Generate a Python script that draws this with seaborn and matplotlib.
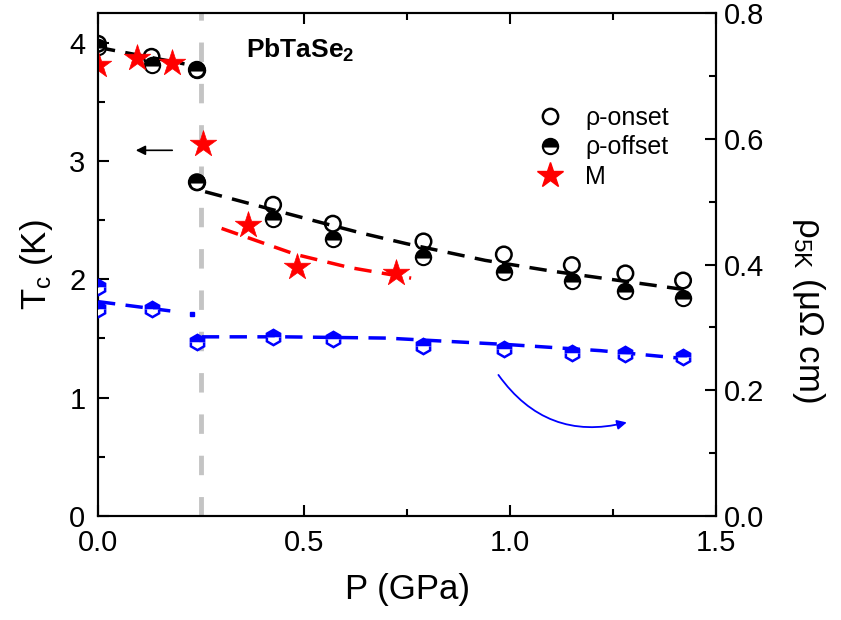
import numpy as np
import pandas as pd
import matplotlib
matplotlib.use("Agg")
import matplotlib.pyplot as plt
import seaborn as sns
from matplotlib.lines import Line2D

# -----------------------------
# Data
# -----------------------------
# Tc from resistivity (onset / offset), left axis
P_res = [0.0, 0.13, 0.24, 0.24, 0.425, 0.57, 0.79, 0.985, 1.15, 1.28, 1.42]
Tc_onset = [3.99, 3.88, 3.77, 2.82, 2.63, 2.47, 2.32, 2.21, 2.12, 2.05, 1.99]
Tc_offset = [3.96, 3.81, 3.77, 2.82, 2.51, 2.34, 2.19, 2.06, 1.99, 1.90, 1.84]

# Tc from magnetization
P_M = [0.0, 0.095, 0.18, 0.256, 0.365, 0.483, 0.723]
Tc_M = [3.81, 3.87, 3.83, 3.14, 2.46, 2.10, 2.05]

# rho at 5 K, right axis
P_rho = [0.0, 0.0, 0.13, 0.24, 0.425, 0.57, 0.79, 0.985, 1.15, 1.28, 1.42]
rho_5K = [0.365, 0.33, 0.330, 0.276, 0.285, 0.281, 0.270, 0.266, 0.260, 0.258, 0.253]

# guide-to-the-eye dashed lines (vertices)
guide_black_lo_P = [0.0, 0.21]
guide_black_lo_T = [3.96, 3.82]
guide_black_hi_P = [0.26, 0.53, 0.64, 0.75, 0.94, 1.10, 1.43]
guide_black_hi_T = [2.74, 2.49, 2.39, 2.30, 2.16, 2.07, 1.91]
guide_red_P = [0.30, 0.48, 0.61, 0.76]
guide_red_T = [2.43, 2.21, 2.10, 2.01]
guide_blue_lo_P = [0.0, 0.19]
guide_blue_lo_rho = [0.341, 0.325]
guide_blue_hi_P = [0.252, 0.45, 0.70, 1.0, 1.22, 1.43]
guide_blue_hi_rho = [0.285, 0.285, 0.283, 0.2725, 0.263, 0.250]

P_transition = 0.25

# -----------------------------
# Style
# -----------------------------
sns.set_style("ticks")
plt.rcParams['font.family'] = ['Liberation Sans', 'DejaVu Sans']
plt.rcParams['mathtext.fontset'] = 'custom'
plt.rcParams['mathtext.rm'] = 'Liberation Sans'
plt.rcParams['mathtext.it'] = 'Liberation Sans'
plt.rcParams['mathtext.bf'] = 'Liberation Sans:bold'
plt.rcParams['axes.linewidth'] = 1.5
plt.rcParams['xtick.direction'] = 'in'
plt.rcParams['ytick.direction'] = 'in'
for key in ['text.color', 'axes.labelcolor', 'axes.edgecolor',
            'xtick.color', 'ytick.color']:
    plt.rcParams[key] = 'black'

fig = plt.figure(figsize=(8.41, 6.2), dpi=100)
ax = fig.add_axes([0.1165, 0.1677, 0.7349, 0.8113])
ax2 = ax.twinx()

dash_kw = dict(linewidth=2.5, dashes=(5, 3))

# guide lines
sns.lineplot(x=guide_black_lo_P, y=guide_black_lo_T, ax=ax, color='black', **dash_kw)
sns.lineplot(x=guide_black_hi_P, y=guide_black_hi_T, ax=ax, color='black', **dash_kw)
sns.lineplot(x=guide_red_P, y=guide_red_T, ax=ax, color='red', **dash_kw)
sns.lineplot(x=guide_blue_lo_P, y=guide_blue_lo_rho, ax=ax2, color='blue', **dash_kw)
sns.lineplot(x=guide_blue_hi_P, y=guide_blue_hi_rho, ax=ax2, color='blue', **dash_kw)
# small dot at the end of the low-pressure blue line
ax2.plot([0.228], [0.322], 's', color='blue', markersize=3)

# vertical transition line
ax.axvline(P_transition, color='#c4c4c4', linewidth=3.5, dashes=(4, 4.5), zorder=1)

# markers
ax.plot(P_res, Tc_offset, linestyle='none', marker='o', markersize=11,
        markerfacecolor='black', markerfacecoloralt='white', fillstyle='top',
        markeredgecolor='black', markeredgewidth=1.5, zorder=4)
sns.scatterplot(x=P_res, y=Tc_onset, ax=ax, marker='o', s=125,
                facecolor='none', edgecolor='black', linewidth=1.8, zorder=5)
sns.scatterplot(x=P_M, y=Tc_M, ax=ax, marker='*', s=400,
                color='red', edgecolor='red', linewidth=0.5, zorder=6)
ax2.plot(P_rho, rho_5K, linestyle='none', marker='h', markersize=11,
         markerfacecolor='blue', markerfacecoloralt='white', fillstyle='top',
         markeredgecolor='blue', markeredgewidth=1.8, zorder=4)

# arrows
ax.annotate('', xy=(0.085, 3.09), xytext=(0.187, 3.09),
            arrowprops=dict(arrowstyle='-|>', color='black', lw=1.2,
                            mutation_scale=14))
ax2.annotate('', xy=(1.29, 0.150), xytext=(0.968, 0.228),
             arrowprops=dict(arrowstyle='-|>', color='blue', lw=1.3,
                             mutation_scale=14,
                             connectionstyle='arc3,rad=0.35'))

ax.text(0.36, 3.93, 'PbTaSe$_\\mathbf{2}$', fontsize=19, fontweight='bold',
        va='center')

# legend
handles = [
    Line2D([], [], linestyle='none', marker='o', markersize=11,
           markerfacecolor='white', markeredgecolor='black', markeredgewidth=1.8),
    Line2D([], [], linestyle='none', marker='o', markersize=11,
           markerfacecolor='black', markerfacecoloralt='white', fillstyle='top',
           markeredgecolor='black', markeredgewidth=1.5),
    Line2D([], [], linestyle='none', marker='*', markersize=19,
           color='red'),
]
ax.legend(handles, ['ρ-onset', 'ρ-offset', 'M'], loc='upper left',
          bbox_to_anchor=(0.655, 0.86), frameon=False, fontsize=18,
          handletextpad=0.4, labelspacing=0.22)

# axes
ax.set_xlim(0, 1.5)
ax.set_ylim(0, 4.25)
ax2.set_ylim(0, 0.8)
ax.set_xticks([0.0, 0.5, 1.0, 1.5])
ax.set_xticks([0.25, 0.75, 1.25], minor=True)
ax.set_yticks([0, 1, 2, 3, 4])
ax.set_yticks([0.5, 1.5, 2.5, 3.5], minor=True)
ax2.set_yticks([0.0, 0.2, 0.4, 0.6, 0.8])
ax2.set_yticks([0.1, 0.3, 0.5, 0.7], minor=True)
ax.xaxis.set_major_formatter(plt.FormatStrFormatter('%.1f'))
ax2.yaxis.set_major_formatter(plt.FormatStrFormatter('%.1f'))

ax.tick_params(which='both', top=True, right=False, width=1.5, labelsize=21)
ax.tick_params(which='major', length=8)
ax.tick_params(which='minor', length=5)
ax.tick_params(axis='x', pad=9)
ax.tick_params(axis='y', pad=9)
ax2.tick_params(which='both', width=1.5, labelsize=21, pad=6)
ax2.tick_params(which='major', length=8)
ax2.tick_params(which='minor', length=5)

ax.set_xlabel('P (GPa)', fontsize=25, labelpad=12)
ax.set_ylabel('T$_\\mathregular{c}$ (K)', fontsize=25, labelpad=10)
ax2.set_ylabel('ρ$_\\mathregular{5K}$ (μΩ cm)', fontsize=25, rotation=270,
               labelpad=30)
ax2.yaxis.set_label_coords(1.18, 0.41)

for spine in ax2.spines.values():
    spine.set_linewidth(1.5)

fig.savefig('out.png', dpi=100)
